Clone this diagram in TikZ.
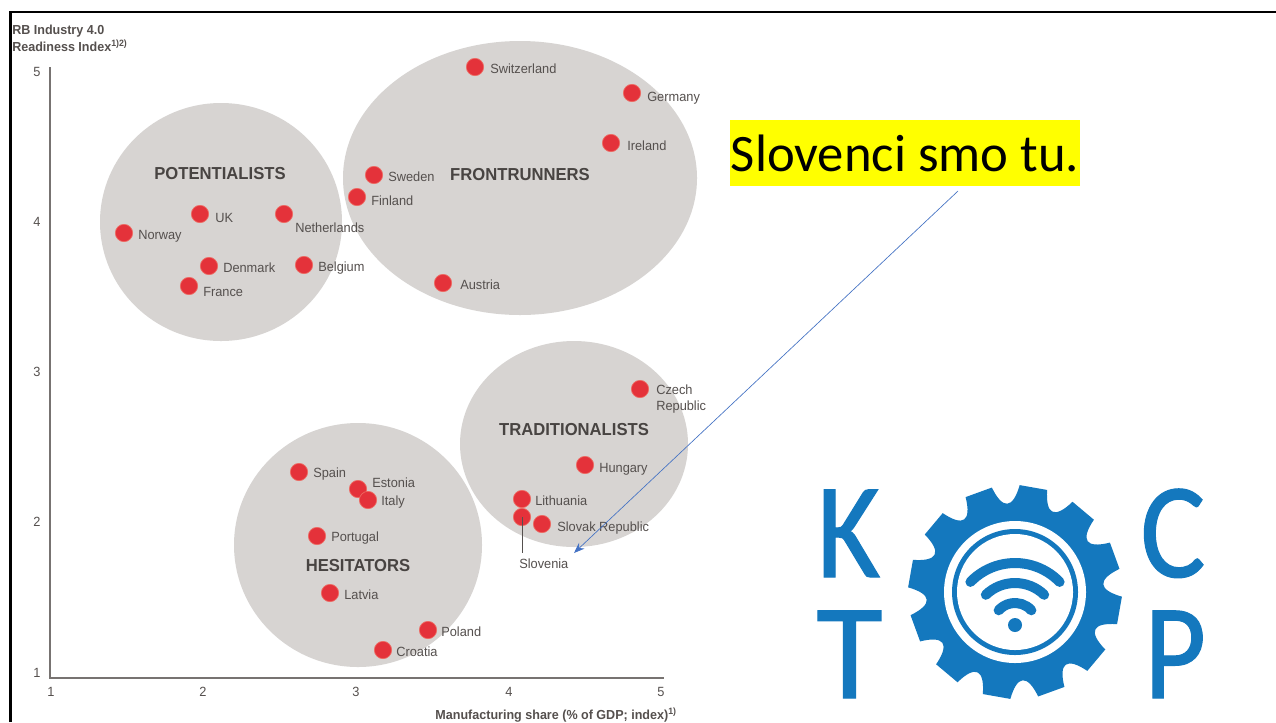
\documentclass[tikz,border=0pt]{standalone}
\usepackage{fontspec}
\setmainfont[FakeStretch=0.96]{Liberation Sans}
\newfontfamily\calib{Carlito}
\newfontfamily\calibb[FakeBold=0.8]{Carlito}
\usetikzlibrary{arrows.meta}
\definecolor{bubble}{HTML}{D7D4D2}
\definecolor{redd}{HTML}{E4323A}
\definecolor{redb}{HTML}{EE6A62}
\definecolor{txt}{HTML}{55504E}
\definecolor{logo}{HTML}{1478BE}
\definecolor{arrowb}{HTML}{4472C4}
\definecolor{hilite}{HTML}{FFFF00}
\tikzset{
  blob/.style={fill=bubble,draw=none},
  dot/.style={circle,fill=redd,draw=redb,line width=0.5pt,minimum size=13pt,inner sep=0pt},
  lab/.style={text=txt,font=\fontsize{10pt}{12pt}\selectfont,inner sep=0pt,anchor=west},
  grp/.style={text=txt!85!black,font=\fontsize{13pt}{15pt}\selectfont\bfseries,inner sep=0pt},
  tick/.style={text=txt,font=\fontsize{10pt}{12pt}\selectfont,inner sep=0pt},
  axt/.style={text=txt,font=\fontsize{9.8pt}{11pt}\selectfont\bfseries,inner sep=0pt},
  letter/.style={text=logo,font=\calibb\fontsize{102pt}{102pt}\selectfont,inner sep=0pt,anchor=base west},
  wifi/.style={draw=logo,line width=7.5pt,line cap=round},
  axisl/.style={draw=txt!80,line width=0.8pt}
}
\newcommand{\cty}[6]{\node[dot] (#1) at (#3,#4) {}; \node[lab] (#1l) at (#5,{#6+1}) {#2};}
\begin{document}
\begin{tikzpicture}[x=0.75pt,y=-0.75pt]
\useasboundingbox (0,0) rectangle (1276,722);
\fill[white] (0,0) rectangle (1276,722);
% frame
\draw[black,line width=2.2pt] (10.5,722) -- (10.5,12) -- (1276,12);
% bubbles
\fill[blob] (221,222) ellipse [x radius=121,y radius=119];
\fill[blob] (520,178) ellipse [x radius=177,y radius=137];
\fill[blob] (574,444) ellipse [x radius=114,y radius=103];
\fill[blob] (358,545) ellipse [x radius=124,y radius=122];
% axes
\coordinate (ytop) at (50,67);
\coordinate (orig) at (50,678);
\coordinate (xend) at (664,678);
\draw[axisl] (ytop) -- (orig) -- (xend);
\node[tick] (y5) at (37,72) {5};
\node[tick] (y4) at (37,222) {4};
\node[tick] (y3) at (37,372) {3};
\node[tick] (y2) at (37,522) {2};
\node[tick] (y1) at (37,673) {1};
\node[tick] (x1) at (51,692) {1};
\node[tick] (x2) at (203,692) {2};
\node[tick] (x3) at (356,692) {3};
\node[tick] (x4) at (509,692) {4};
\node[tick] (x5) at (661,692) {5};
\node[axt,anchor=west] (yt1) at (12,31) {RB Industry 4.0};
\node[axt,anchor=west] (yt2) at (12,45.5) {Readiness Index\textsuperscript{1)2)}};
\node[axt,anchor=east] (xt) at (677,715) {Manufacturing share (\% of GDP; index)\textsuperscript{1)}};
% groups
\node[grp] (gp) at (220,173.5) {POTENTIALISTS};
\node[grp] (gf) at (520,174.5) {FRONTRUNNERS};
\node[grp] (gt) at (574,429.5) {TRADITIONALISTS};
\node[grp] (gh) at (358,565.5) {HESITATORS};
% countries
\cty{ch}{Switzerland}{475}{67}{490}{68}
\cty{de}{Germany}{632}{93}{647}{97}
\cty{ie}{Ireland}{611}{143}{627}{145}
\cty{se}{Sweden}{374}{175}{388}{176}
\cty{fi}{Finland}{357}{197}{371}{200}
\cty{at}{Austria}{443}{283}{460}{284}
\cty{nl}{Netherlands}{284}{214}{295}{227}
\cty{be}{Belgium}{304}{265}{318}{267}
\cty{uk}{UK}{200}{214}{215}{217}
\cty{no}{Norway}{124}{233}{138}{235}
\cty{dk}{Denmark}{209}{266}{223}{267}
\cty{fr}{France}{189}{286}{203}{291}
\cty{cz}{\shortstack[l]{Czech\\[1pt]Republic}}{640}{389}{656}{398}
\cty{hu}{Hungary}{585}{465}{599}{468}
\cty{lt}{Lithuania}{522}{499}{535}{500}
\cty{sk}{Slovak Republic}{542}{524}{557}{527}
\cty{si}{Slovenia}{522}{517}{519}{563}
\cty{es}{Spain}{299}{472}{313}{473}
\cty{ee}{Estonia}{358}{489}{372}{482}
\cty{it}{Italy}{368}{500}{381}{501}
\cty{pt}{Portugal}{317}{536}{331}{537}
\cty{lv}{Latvia}{330}{593}{344}{594}
\cty{pl}{Poland}{428}{630}{441}{631}
\cty{hr}{Croatia}{383}{650}{396}{651}
\coordinate (sib) at (522,553);
\draw[txt,line width=0.7pt] (si.center) -- (sib);
% callout
\node[fill=hilite,anchor=center,minimum width=262.5pt,minimum height=49.5pt,inner sep=0pt,font=\calib\fontsize{39.5pt}{42pt}\selectfont] (call) at (905,153) {Slovenci smo tu.};
\coordinate (astart) at (958,191);
\coordinate (aend) at (574,553);
\draw[arrowb,line width=0.5pt,-{Stealth[length=8pt,width=6pt]}] (astart) -- (aend);
% logo
\node[letter] (K) at (816.5,577) {\scalebox{0.9}[1]{K}};
\node[letter] (T) at (816,698) {T};
\node[letter] (C) at (1140,577) {\scalebox{0.9}[1]{C}};
\node[letter] (P) at (1144,698) {\scalebox{0.88}[1]{P}};
\begin{scope}[shift={(1015,592)},y=0.75pt]
  \fill[logo] (-2.5:107) \foreach \a in {5,35,...,335} {
     .. controls (\a-3.5:83) and (\a+3.5:83) .. (\a+7.5:107) -- (\a+22.5:107)
  } -- cycle;
  \fill[white] (0,0) circle [radius=71];
  \fill[logo] (0,0) circle [radius=63];
  \fill[white] (0,0) circle [radius=58];
  \draw[wifi] ([shift={(44:62)}]0,-33) arc [start angle=44,end angle=136,radius=62];
  \draw[wifi] ([shift={(46:42)}]0,-33) arc [start angle=46,end angle=134,radius=42];
  \draw[wifi] ([shift={(42:22)}]0,-33) arc [start angle=42,end angle=138,radius=22];
  \fill[logo] (0,-33) circle [radius=7];
\end{scope}
\end{tikzpicture}
\end{document}
